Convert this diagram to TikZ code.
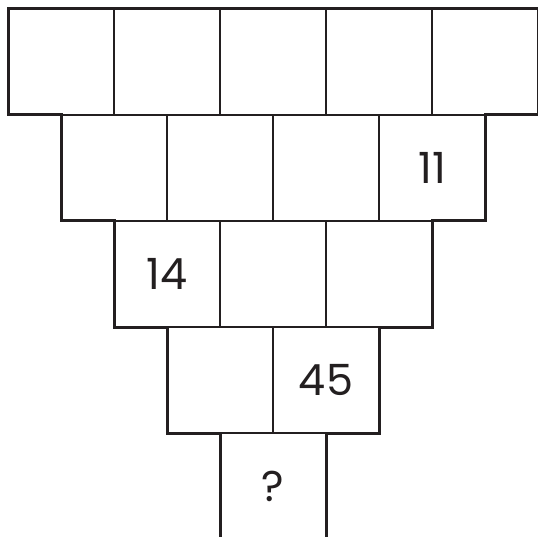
\documentclass[tikz,border=0pt]{standalone}
\usepackage{fontspec}
\setmainfont{Poppins}
\definecolor{ink}{HTML}{231F20}
\begin{document}
\begin{tikzpicture}[x=1pt,y=-1pt,
  cell/.style={draw=ink,line width=1.1pt,minimum width=106pt,minimum height=106pt,inner sep=0pt,outer sep=0pt,
    font=\fontsize{43}{43}\selectfont,text=ink},
  outline/.style={draw=ink,line width=3pt,line join=miter}]
\useasboundingbox (0,0) rectangle (538,537);
% row 1
\foreach \i in {1,...,5} \node[cell] (r1c\i) at ({8+(\i-0.5)*106},62) {};
% row 2
\foreach \i in {1,2,3} \node[cell] (r2c\i) at ({61+(\i-0.5)*106},168) {};
\node[cell] (r2c4) at ({61+3.5*106},168) {11};
% row 3
\node[cell] (r3c1) at ({114+0.5*106},274) {14};
\foreach \i in {2,3} \node[cell] (r3c\i) at ({114+(\i-0.5)*106},274) {};
% row 4
\node[cell] (r4c1) at ({167+0.5*106},380) {};
\node[cell] (r4c2) at ({167+1.5*106},380) {45};
% row 5
\node[cell] (r5c1) at ({220+0.5*106},486) {?};
% outline
\draw[outline] (r5c1.south west) -- (r5c1.north west) -- (r4c1.south west) -- (r4c1.north west)
  -- (r3c1.south west) -- (r3c1.north west) -- (r2c1.south west) -- (r2c1.north west)
  -- (r1c1.south west) -- (r1c1.north west) -- (r1c5.north east) -- (r1c5.south east)
  -- (r2c4.north east) -- (r2c4.south east) -- (r3c3.north east) -- (r3c3.south east)
  -- (r4c2.north east) -- (r4c2.south east) -- (r5c1.north east) -- (r5c1.south east);
\end{tikzpicture}
\end{document}
